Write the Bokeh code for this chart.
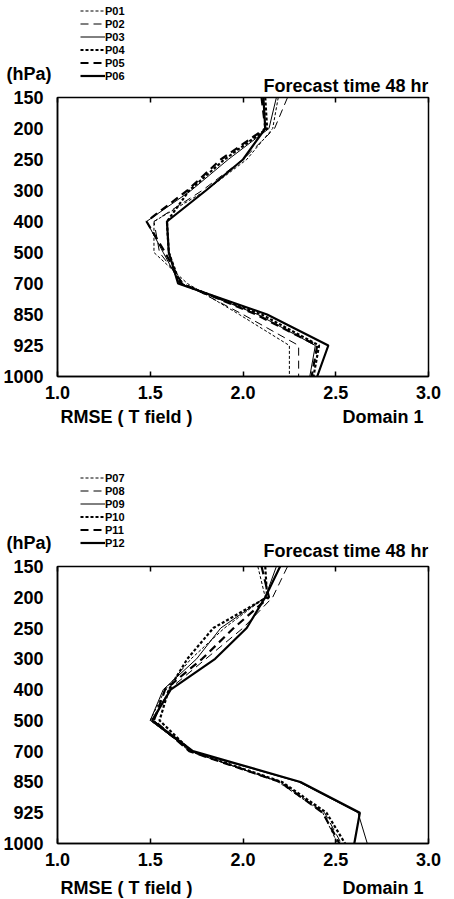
import numpy as np
from bokeh.plotting import figure
from bokeh.models import Range1d, FixedTicker, LinearAxis, Legend, LegendItem, Label
from bokeh.layouts import column
from bokeh.embed import file_html
from bokeh.resources import INLINE

# ---------------- data ----------------
levels = ["150", "200", "250", "300", "400", "500", "700", "850", "925", "1000"]
x_ticks = [1.0, 1.5, 2.0, 2.5, 3.0]

names_top = ["P01", "P02", "P03", "P04", "P05", "P06"]
p01 = [2.19, 2.16, 2.02, 1.80, 1.52, 1.52, 1.70, 1.98, 2.25, 2.25]
p02 = [2.24, 2.17, 2.00, 1.78, 1.52, 1.55, 1.68, 2.00, 2.30, 2.30]
p03 = [2.18, 2.14, 1.92, 1.72, 1.48, 1.57, 1.66, 2.08, 2.39, 2.36]
p04 = [2.12, 2.13, 1.90, 1.71, 1.59, 1.60, 1.66, 2.10, 2.41, 2.38]
p05 = [2.10, 2.12, 1.88, 1.70, 1.48, 1.58, 1.67, 2.07, 2.40, 2.37]
p06 = [2.11, 2.12, 2.00, 1.80, 1.59, 1.60, 1.65, 2.13, 2.46, 2.40]

names_bot = ["P07", "P08", "P09", "P10", "P11", "P12"]
p07 = [2.08, 2.12, 1.90, 1.72, 1.58, 1.50, 1.72, 2.19, 2.43, 2.51]
p08 = [2.24, 2.16, 2.00, 1.80, 1.60, 1.52, 1.71, 2.20, 2.44, 2.53]
p09 = [2.18, 2.12, 1.88, 1.75, 1.57, 1.50, 1.72, 2.30, 2.62, 2.67]
p10 = [2.12, 2.13, 1.84, 1.70, 1.60, 1.55, 1.72, 2.21, 2.45, 2.55]
p11 = [2.10, 2.14, 1.95, 1.78, 1.58, 1.52, 1.71, 2.20, 2.43, 2.52]
p12 = [2.20, 2.12, 2.02, 1.85, 1.61, 1.51, 1.73, 2.31, 2.63, 2.60]

title_text = "Forecast time 48 hr"
unit_text = "(hPa)"
xlabel_text = "RMSE ( T field )"
domain_text = "Domain 1"

# ---------------- styles ----------------
FONT = "Liberation Sans"
dashes = ["3 2", "8 5", "solid", "3 2", "8 5", "solid"]
widths = [1.0, 1.0, 1.0, 2.2, 2.2, 2.2]
BL, BR, FW = 49, 18, 371   # left border, right border, frame width (shared by all strips)
OVERLAP = 12               # strips overlap the next panel's top border

ypos = list(range(len(levels)))


def strip(height, unit_y=None, overlap=True):
    """Text strip; x in RMSE units (aligned with the panels), y in pixels from its top."""
    f = figure(frame_width=FW, frame_height=height, title=None,
               min_border_left=BL, min_border_right=BR, min_border_top=0, min_border_bottom=0,
               x_range=Range1d(1.0, 3.0), y_range=Range1d(height, 0),
               x_axis_location=None, y_axis_location="left",
               output_backend="svg", toolbar_location=None,
               outline_line_color=None, background_fill_color=None,
               border_fill_color=None,
               margin=(0, 0, -OVERLAP if overlap else 0, 0))
    for g in f.grid:
        g.visible = False
    ya = f.yaxis[0]
    ya.axis_line_color = None
    ya.major_tick_line_color = None
    ya.minor_tick_line_color = None
    ya.major_label_standoff = 0
    ya.major_label_text_font = FONT
    ya.major_label_text_font_style = "bold"
    ya.major_label_text_font_size = "18px"
    ya.major_label_text_color = "black"
    if unit_y is None:
        ya.ticker = FixedTicker(ticks=[])
    else:
        ya.ticker = FixedTicker(ticks=[unit_y])
        ya.major_label_overrides = {unit_y: unit_text}
    return f


def add_text(f, x, y, text, align, x_offset=0):
    f.add_layout(Label(x=x, y=y, x_offset=x_offset, text=text, text_align=align,
                       text_baseline="middle", text_font=FONT, text_font_style="bold",
                       text_font_size="18px", text_color="black"))


def add_legend(f, names, loc):
    items = []
    for name, dsh, w in zip(names, dashes, widths):
        r = f.line(x=[np.nan], y=[np.nan], line_color="black", line_width=w, line_dash=dsh)
        items.append(LegendItem(label=name, renderers=[r]))
    leg = Legend(items=items, location=loc, orientation="vertical",
                 glyph_width=25, glyph_height=13, label_height=13, label_width=20,
                 label_standoff=0, spacing=0, padding=0, margin=0,
                 border_line_color=None, background_fill_alpha=0,
                 label_text_font=FONT, label_text_font_style="bold",
                 label_text_font_size="11px", label_text_color="black")
    f.add_layout(leg, "center")


def make_panel(series, frame_h, border_bottom, x_standoff):
    p = figure(frame_width=FW, frame_height=frame_h, title=None,
               min_border_left=BL, min_border_right=BR,
               min_border_top=OVERLAP, min_border_bottom=border_bottom,
               x_range=Range1d(1.0, 3.0), y_range=Range1d(len(levels) - 1, 0),
               output_backend="svg", toolbar_location=None,
               background_fill_color="white", border_fill_color=None)
    p.xgrid.visible = False
    p.ygrid.visible = False
    p.outline_line_color = "black"
    p.outline_line_width = 1.5

    xa = p.xaxis[0]
    xa.ticker = FixedTicker(ticks=x_ticks)
    xa.major_label_overrides = {t: f"{t:.1f}" for t in x_ticks}
    xa.major_tick_in = 5
    xa.major_tick_out = 0
    xa.minor_tick_line_color = None
    xa.major_label_standoff = x_standoff
    xa.axis_line_width = 1.5
    xa.major_tick_line_width = 1.5
    xa.major_label_text_font = FONT
    xa.major_label_text_font_style = "bold"
    xa.major_label_text_font_size = "18px"
    xa.major_label_text_color = "black"

    ta = LinearAxis(ticker=FixedTicker(ticks=x_ticks), major_tick_in=5, major_tick_out=0,
                    minor_tick_line_color=None, major_label_text_color=None,
                    major_label_text_font_size="0px", major_label_standoff=0,
                    axis_line_color=None, major_tick_line_width=1.5)
    p.add_layout(ta, "above")

    ya = p.yaxis[0]
    ya.ticker = FixedTicker(ticks=ypos)
    ya.major_label_overrides = {i: lab for i, lab in zip(ypos, levels)}
    ya.major_tick_line_color = None
    ya.minor_tick_line_color = None
    ya.major_label_standoff = 8
    ya.axis_line_width = 1.5
    ya.major_label_text_font = FONT
    ya.major_label_text_font_style = "bold"
    ya.major_label_text_font_size = "18px"
    ya.major_label_text_color = "black"

    for vals, dsh, w in zip(series, dashes, widths):
        p.line(vals, ypos, line_color="black", line_width=w, line_dash=dsh)
    return p


# header of panel 1: page y 0..97
head1 = strip(97, unit_y=73)
add_legend(head1, names_top, (23, 15))
add_text(head1, 3.0, 85, title_text, "right")

# panel 1: frame 97..376
p1 = make_panel([p01, p02, p03, p04, p05, p06], frame_h=279, border_bottom=30, x_standoff=9)

# middle strip: page y 406..566
mid = strip(160, unit_y=136)
add_text(mid, 1.0, 10, xlabel_text, "left", x_offset=3)
add_text(mid, 3.0, 10, domain_text, "right", x_offset=-5)
add_legend(mid, names_bot, (23, 17))
add_text(mid, 3.0, 144, title_text, "right")

# panel 2: frame 566..843
p2 = make_panel([p07, p08, p09, p10, p11, p12], frame_h=277, border_bottom=29, x_standoff=9)

# footer: page y 872..899
foot = strip(27, overlap=False)
add_text(foot, 1.0, 15, xlabel_text, "left", x_offset=3)
add_text(foot, 3.0, 15, domain_text, "right", x_offset=-5)

layout = column(head1, p1, mid, p2, foot, spacing=0)
open("out.html", "w").write(file_html(layout, INLINE))
